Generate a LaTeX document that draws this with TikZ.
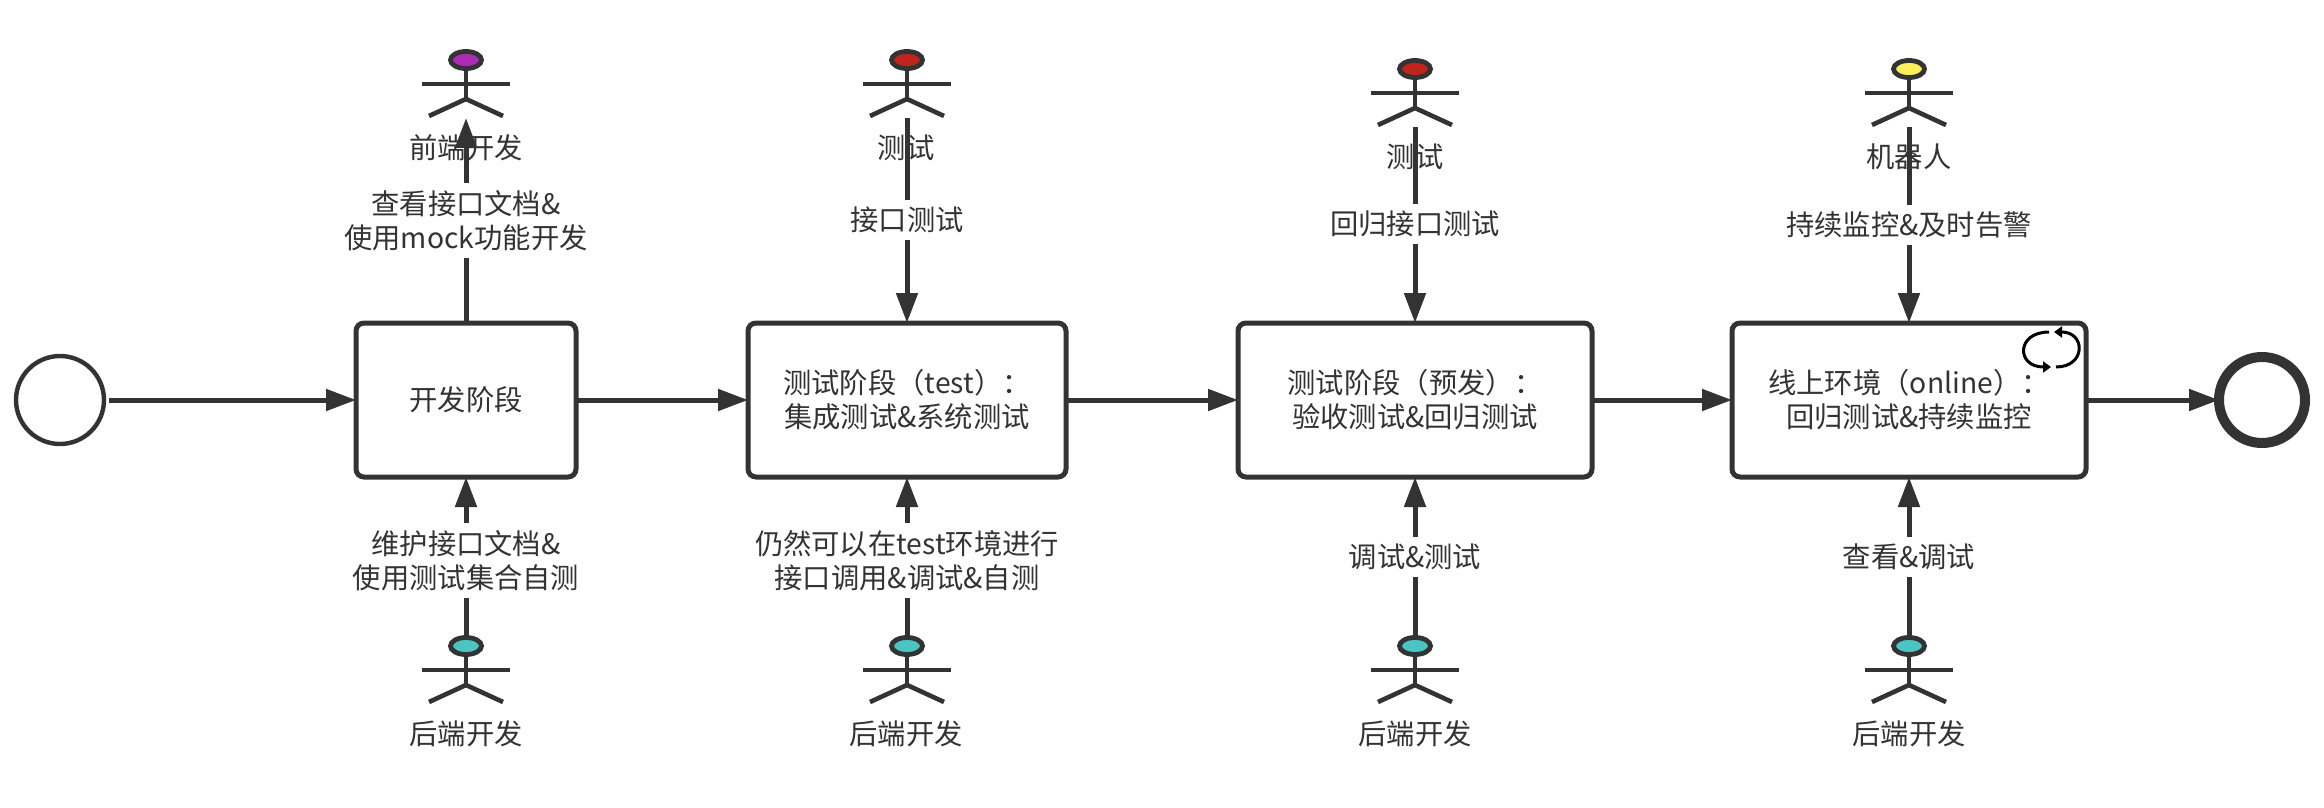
\documentclass[tikz,border=0pt]{standalone}
\usepackage{fontspec}
\setmainfont{Noto Sans CJK SC}
\usetikzlibrary{arrows.meta,shapes.geometric}
\definecolor{ink}{HTML}{333333}
\definecolor{frontend}{HTML}{B02AB8}
\definecolor{tester}{HTML}{C0241C}
\definecolor{backend}{HTML}{4CC4C4}
\definecolor{robot}{HTML}{FFEF5A}
\tikzset{
  x=0.5pt,y=-0.5pt,
  flowline/.style={draw=ink,line width=2.5pt,-{Triangle[length=15pt,width=10.5pt]}},
  stagebox/.style={draw=ink,fill=white,line width=2.5pt,rounded corners=4pt,minimum height=77pt,align=center,inner sep=0pt,outer sep=0pt,text=ink,font=\fontsize{14.15}{17}\selectfont},
  label/.style={text=ink,align=center,inner sep=0pt,font=\fontsize{14.15}{17}\selectfont},
  masklabel/.style={label,fill=white,inner xsep=1pt,inner ysep=3.5pt},
  limb/.style={draw=ink,line width=2.3pt},
  headshape/.style={ellipse,draw=ink,line width=2.4pt,minimum width=15.5pt,minimum height=8.5pt,inner sep=0pt,outer sep=0pt},
  startevent/.style={circle,draw=ink,fill=white,line width=2.2pt,minimum size=44pt,inner sep=0pt,outer sep=0pt},
  endevent/.style={circle,draw=ink,fill=white,line width=5pt,minimum size=43pt,inner sep=0pt,outer sep=0pt},
  loopline/.style={draw=black,line width=1.5pt,-{Triangle[length=4pt,width=5.5pt]}},
}
% stick figure: head node, arms, body and legs
\newcommand\stickfigure[4]{% name, x, head y, fill
  \node[headshape,fill=#4] (#1) at (#2,#3) {};
  \coordinate (#1-hip) at (#2,#3+39);
  \coordinate (#1-foot) at (#2,#3+58);
  \coordinate (#1-al) at (#2-44,#3+24);
  \coordinate (#1-ar) at (#2+44,#3+24);
  \coordinate (#1-ll) at (#2-37,#3+56);
  \coordinate (#1-lr) at (#2+37,#3+56);
  \draw[limb] (#1.south) -- (#1-hip);
  \draw[limb] (#1-al) -- (#1-ar);
  \draw[limb] (#1-ll) -- (#1-hip) -- (#1-lr);
}
\begin{document}
\begin{tikzpicture}
\useasboundingbox (0,0) rectangle (2324,808);
% stages
\node[startevent] (start) at (60,400) {};
\node[stagebox,minimum width=110pt] (dev) at (466,400) {开发阶段};
\node[stagebox,minimum width=159pt] (test) at (907,400) {测试阶段（test）：\\集成测试\&系统测试};
\node[stagebox,minimum width=177pt] (pre) at (1415,400) {测试阶段（预发）：\\验收测试\&回归测试};
\node[stagebox,minimum width=177pt] (online) at (1909,400) {线上环境（online）：\\回归测试\&持续监控};
\node[endevent] (end) at (2262,400) {};
% sequence flow
\draw[flowline] ([xshift=2.5pt]start.east) -- (dev.west);
\draw[flowline] ([xshift=1pt]dev.east) -- (test.west);
\draw[flowline] ([xshift=1pt]test.east) -- (pre.west);
\draw[flowline] ([xshift=1pt]pre.east) -- (online.west);
\draw[flowline] ([xshift=1pt]online.east) -- (end.west);
% loop marker
\coordinate (loopa) at (2056,367);
\coordinate (loopb) at (2054,332);
\coordinate (loopc) at (2049,332);
\coordinate (loopd) at (2051,367);
\draw[loopline] (loopa) .. controls (2086,367) and (2086,332) .. (loopb);
\draw[loopline] (loopc) .. controls (2016,332) and (2016,367) .. (loopd);
% upper actors
\stickfigure{fe}{466}{60}{frontend}
\stickfigure{qa}{907}{60}{tester}
\stickfigure{qb}{1415}{69}{tester}
\stickfigure{bot}{1909}{69}{robot}
\coordinate (fe-tip) at (466,118);
\draw[flowline] (dev.north) -- (fe-tip) node[pos=0.5,masklabel] (fe-task) {查看接口文档\&\\使用mock功能开发};
\draw[flowline] (qa-foot) -- (test.north) node[pos=0.4975,masklabel] (qa-task) {接口测试};
\draw[flowline] (qb-foot) -- (pre.north) node[pos=0.495,masklabel] (qb-task) {回归接口测试};
\draw[flowline] (bot-foot) -- (online.north) node[pos=0.5,masklabel] (bot-task) {持续监控\&及时告警};
\node[label] (fe-name) at (466,148) {前端开发};
\node[label] (qa-name) at (906,148) {测试};
\node[label] (qb-name) at (1415,157) {测试};
\node[label] (bot-name) at (1909,157) {机器人};
% lower actors
\stickfigure{be1}{466}{646}{backend}
\stickfigure{be2}{907}{646}{backend}
\stickfigure{be3}{1415}{646}{backend}
\stickfigure{be4}{1909}{646}{backend}
\draw[flowline] (be1.north) -- (dev.south) node[pos=0.48,masklabel] (be1-task) {维护接口文档\&\\使用测试集合自测};
\draw[flowline] (be2.north) -- (test.south) node[pos=0.48,masklabel] (be2-task) {仍然可以在test环境进行\\接口调用\&调试\&自测};
\draw[flowline] (be3.north) -- (pre.south) node[pos=0.5,masklabel] (be3-task) {调试\&测试};
\draw[flowline] (be4.north) -- (online.south) node[pos=0.5,masklabel] (be4-task) {查看\&调试};
\node[label] (be1-name) at (466,734) {后端开发};
\node[label] (be2-name) at (906,734) {后端开发};
\node[label] (be3-name) at (1415,734) {后端开发};
\node[label] (be4-name) at (1909,734) {后端开发};
\end{tikzpicture}
\end{document}
